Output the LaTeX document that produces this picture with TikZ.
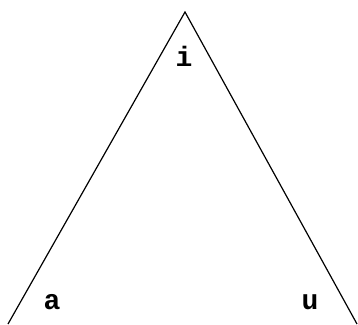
\documentclass[tikz,border=0pt]{standalone}
\usepackage{fontspec}
\setmonofont{Liberation Mono}
\usetikzlibrary{positioning}

\begin{document}
\begin{tikzpicture}[
    x=1pt, y=-1pt,
    every node/.style={font=\fontsize{28}{30}\selectfont\ttfamily\bfseries},
    vowel/.style={inner sep=0pt},
    side/.style={line width=1.2pt, line join=miter},
]
\useasboundingbox (0,0) rectangle (358,324);

\coordinate (top) at (185,12);
\coordinate (left) at (8,324);
\coordinate (right) at (357,324);

\node[vowel] (i) at (184,56) {i};
\node[vowel] (a) at (52,302) {a};
\node[vowel] (u) at (310,302) {u};

\draw[side] (left) -- (top) -- (right);

\end{tikzpicture}
\end{document}
